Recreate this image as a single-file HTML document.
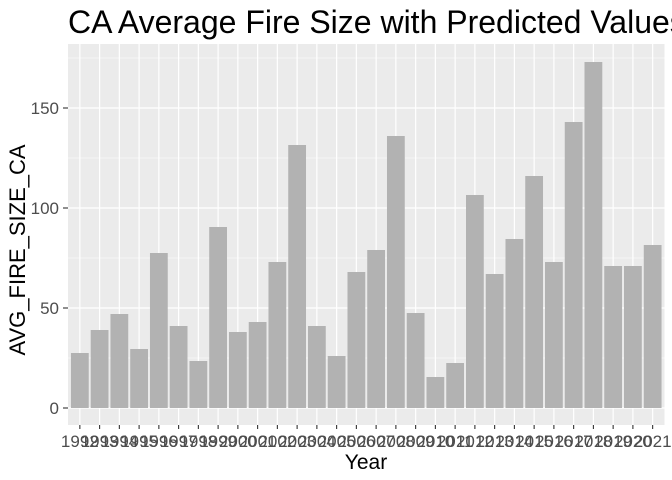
<!DOCTYPE html>
<html><head><meta charset="utf-8"><style>body{margin:0;background:#fff}svg{display:block;font-family:"Liberation Sans",sans-serif}</style></head>
<body>
<svg id="chart" width="672" height="480" xmlns="http://www.w3.org/2000/svg"></svg>
<script>
const years = ["1992","1993","1994","1995","1996","1997","1998","1999","2000","2001","2002","2003","2004","2005","2006","2007","2008","2009","2010","2011","2012","2013","2014","2015","2016","2017","2018","2019","2020","2021"];
const values = [27.5,39,47,29.5,77.5,41,23.5,90.5,38,43,73,131.5,41,26,68,79,136,47.5,15.5,22.5,106.5,67,84.5,116,73,143,173,71,71,81.5];
const yTicks = [0,50,100,150];
const yMinor = [25,75,125,175];
const NS="http://www.w3.org/2000/svg";
const svg=document.getElementById('chart');
const L=68,T=44,B=425,R=664.5;
const step=(R-L)/(years.length-1+1.2);
const xc=i=>L+(0.6+i)*step;
const y=v=>408-v*2;
function mk(tag,attrs,parent){const e=document.createElementNS(NS,tag);for(const k in attrs)e.setAttribute(k,attrs[k]);(parent||svg).appendChild(e);return e;}
const panel=mk('rect',{x:L,y:T,width:R-L,height:B-T,fill:'#ebebeb'});


yMinor.forEach(v=>{if(y(v)>T){const l=mk('line',{x1:L,x2:R,y1:y(v),y2:y(v),stroke:'#fff','stroke-width':0.6});

}});
yTicks.forEach(v=>{const l=mk('line',{x1:L,x2:R,y1:y(v),y2:y(v),stroke:'#fff','stroke-width':1.2});


const t=mk('text',{x:59,y:y(v)+6,'text-anchor':'end','font-size':17,fill:'#4d4d4d'});t.textContent=v;


mk('line',{x1:63,x2:L,y1:y(v),y2:y(v),stroke:'#333','stroke-width':1.1});});
years.forEach((yr,i)=>{const l=mk('line',{x1:xc(i),x2:xc(i),y1:T,y2:B,stroke:'#fff','stroke-width':1.2});

});
years.forEach((yr,i)=>{const w=step*0.9;const r=mk('rect',{x:xc(i)-w/2,y:y(values[i]),width:w,height:y(0)-y(values[i]),fill:'#b2b2b2'});


mk('line',{x1:xc(i),x2:xc(i),y1:B,y2:B+4,stroke:'#333','stroke-width':1.1});
const t=mk('text',{x:xc(i),y:447,'text-anchor':'middle','font-size':17,fill:'#4d4d4d'});t.textContent=yr;

});
const xt=mk('text',{x:366,y:469,'text-anchor':'middle','font-size':21,fill:'#000'});xt.textContent='Year';


const yt=mk('text',{x:25,y:250,'text-anchor':'middle','font-size':22,fill:'#000',transform:'rotate(-90 25 250)'});yt.textContent='AVG_FIRE_SIZE_CA';


const tt=mk('text',{x:68,y:33,'font-size':32,fill:'#000'});tt.textContent='CA Average Fire Size with Predicted Values';


</script>
</body></html>
